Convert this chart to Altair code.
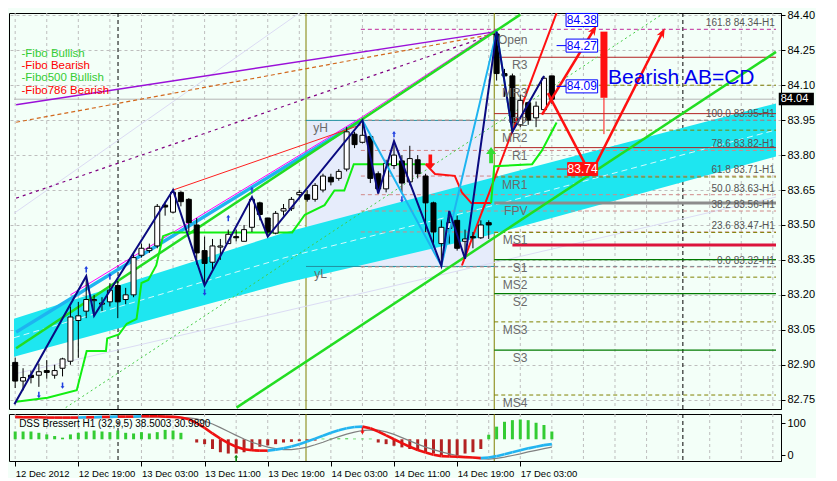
import math
import altair as alt
import pandas as pd

W, H1, H2 = 772, 396, 47
X_DOM = [-0.15, 96.4]
Y_DOM = [82.71, 84.41]
V_DOM = [-17, 128]
BG = "#F3FFF8"
FONT = "Liberation Sans"

# ---------------- candles (H1 bars) ----------------
bars = list(range(69))
opens = [82.91, 82.83, 82.855, 82.855, 82.875, 82.855, 82.885, 82.915, 83.09, 83.13,
         83.175, 83.16, 83.17, 83.24, 83.18, 83.20, 83.37, 83.39, 83.41, 83.585,
         83.555, 83.64, 83.61, 83.50, 83.39, 83.34, 83.405, 83.42, 83.45, 83.43,
         83.49, 83.595, 83.53, 83.465, 83.56, 83.57, 83.63, 83.63, 83.61, 83.65,
         83.705, 83.70, 83.74, 83.89, 83.855, 83.88, 83.72, 83.655, 83.755, 83.775,
         83.685, 83.78, 83.71, 83.595, 83.42, 83.485, 83.52, 83.43, 83.45, 83.445,
         83.51, 84.32, 84.15, 84.14, 83.93, 84.025, 83.96, 83.995, 84.14]
highs = [82.93, 82.885, 82.875, 82.905, 82.92, 82.90, 82.93, 83.15, 83.17, 83.28,
         83.20, 83.19, 83.25, 83.26, 83.23, 83.38, 83.42, 83.42, 83.59, 83.60,
         83.65, 83.645, 83.615, 83.53, 83.45, 83.44, 83.44, 83.48, 83.48, 83.50,
         83.62, 83.60, 83.53, 83.56, 83.59, 83.62, 83.65, 83.65, 83.68, 83.72,
         83.72, 83.74, 83.92, 83.90, 83.95, 83.89, 83.73, 83.78, 83.86, 83.80,
         83.84, 83.80, 83.72, 83.60, 83.52, 83.56, 83.54, 83.48, 83.47, 83.52,
         83.52, 84.33, 84.17, 84.15, 84.06, 84.03, 84.03, 84.14, 84.14]
lows = [82.80, 82.79, 82.82, 82.805, 82.84, 82.84, 82.85, 82.90, 82.93, 83.10,
        83.11, 83.13, 83.15, 83.10, 83.16, 83.19, 83.36, 83.38, 83.40, 83.54,
        83.55, 83.58, 83.47, 83.33, 83.24, 83.31, 83.35, 83.42, 83.43, 83.43,
        83.47, 83.52, 83.45, 83.46, 83.54, 83.56, 83.61, 83.60, 83.60, 83.64,
        83.67, 83.69, 83.73, 83.83, 83.85, 83.68, 83.635, 83.64, 83.74, 83.64,
        83.67, 83.70, 83.47, 83.42, 83.325, 83.42, 83.39, 83.355, 83.40, 83.44,
        83.44, 84.12, 84.05, 83.90, 83.92, 83.93, 83.92, 83.99, 84.02]
closes = [82.83, 82.845, 82.845, 82.87, 82.867, 82.875, 82.925, 83.105, 83.11, 83.18,
          83.18, 83.165, 83.22, 83.17, 83.20, 83.36, 83.40, 83.40, 83.58, 83.577,
          83.64, 83.60, 83.51, 83.38, 83.335, 83.41, 83.41, 83.46, 83.445, 83.48,
          83.61, 83.545, 83.47, 83.55, 83.57, 83.61, 83.64, 83.61, 83.67, 83.71,
          83.685, 83.73, 83.90, 83.845, 83.885, 83.70, 83.655, 83.765, 83.80, 83.68,
          83.785, 83.72, 83.595, 83.47, 83.49, 83.51, 83.40, 83.44, 83.445, 83.50,
          83.50, 84.15, 84.14, 83.94, 84.035, 83.95, 84.01, 84.13, 84.04]

x_ticks = [0, 8, 16, 24, 32, 40, 48, 56, 64]
x_labels = ["12 Dec 2012", "12 Dec 19:00", "13 Dec 03:00", "13 Dec 11:00", "13 Dec 19:00",
            "14 Dec 03:00", "14 Dec 11:00", "14 Dec 19:00", "17 Dec 03:00"]
y_ticks = [82.75, 82.90, 83.05, 83.20, 83.35, 83.50, 83.65, 83.80, 83.95, 84.10, 84.25, 84.40]
grid_bars = [0, 4, 8, 12, 16, 20, 24, 28, 32, 36, 40, 44, 48, 52, 56, 60, 64, 68, 72, 76, 80, 84, 88, 92, 96]

# regression band
band_b = [-0.15, 34.2, 59.0, 96.4]
band_top = [83.097, 83.468, 83.69, 84.022]
band_bot = [82.934, 83.251, 83.447, 83.794]
band_mid = [83.016, 83.36, 83.57, 83.908]

# pivots
piv_names = ["R3", "MR3", "R2", "MR2", "R1", "MR1", "FPV", "MS1", "S1", "MS2", "S2", "MS3", "S3", "MS4"]
piv_prices = [84.22, 84.10, 83.978, 83.907, 83.832, 83.706, 83.594, 83.468, 83.351, 83.276, 83.205, 83.084, 82.963, 82.77]
piv_kind = ["R", "M", "R", "M", "R", "M", "P", "M", "S", "M", "S", "M", "S", "M"]
piv_start = 60.7
open_price = 84.33

# fibo levels
fib_labels = ["161.8 84.34-H1", "100.0 83.95-H1", "78.6 83.82-H1", "61.8 83.71-H1",
              "50.0 83.63-H1", "38.2 83.56-H1", "23.6 83.47-H1", "0.0 83.32-H1"]
fib_prices = [84.34, 83.95, 83.82, 83.71, 83.63, 83.56, 83.47, 83.32]
fib_start = 43.8

# day box
yH, yL = 83.949, 83.322
box_b0, box_b1 = 36.85, 60.7

# zigzags
navy_b = [-0.1, 9, 10, 20, 24, 30, 32, 44, 46, 48, 54, 55, 57, 61, 63, 67]
navy_p = [82.73, 83.28, 83.11, 83.65, 83.24, 83.62, 83.45, 83.95, 83.635, 83.86, 83.325, 83.56, 83.355, 84.33, 83.90, 84.14]
sky_b = [44, 54, 61, 63]
sky_p = [83.95, 83.325, 84.33, 83.90]

# trailing step line
gstep_b = [0.12, 4.1, 7.8, 9.06, 11.5, 11.66, 13.15, 14.14, 15.38, 16.0, 16.87, 17.87, 18.73, 19.98, 35.1, 36.7, 39.2, 40.45, 41.7, 42.9, 52.0]
gstep_p = [82.741, 82.758, 82.791, 82.959, 82.959, 83.013, 83.030, 83.076, 83.097, 83.251, 83.264, 83.326, 83.452, 83.468, 83.468, 83.544, 83.585, 83.648, 83.648, 83.761, 83.761]
rstep_b = [52.0, 53.2, 55.7, 56.6, 57.8, 60.3]
rstep_p = [83.761, 83.719, 83.711, 83.640, 83.594, 83.594]
gstep2_b = [60.3, 60.7, 65.5, 66.75, 68.6]
gstep2_p = [83.594, 83.752, 83.761, 83.820, 83.940]

# AB=CD projection arrows (from -> to)
abcd_b0 = [66.75, 67.5, 73.1]
abcd_p0 = [83.974, 84.066, 83.73]
abcd_b1 = [73.3, 72.7, 82.0]
abcd_p1 = [84.337, 83.73, 84.325]

# price tags
blue_tags = ["84.38", "84.27", "84.09"]
blue_tag_p = [84.38, 84.27, 84.095]
red_tag = "83.74"
red_tag_p = 83.74

# signal arrows
up_small_b = [9, 12, 27, 30, 48]
up_small_p = [83.31, 83.28, 83.53, 83.65, 83.89]
dn_small_b = [3, 6, 24, 49]
dn_small_p = [82.77, 82.81, 83.21, 83.61]

legend_txt = ["-Fibo Bullish", "-Fibo Bearish", "-Fibo500 Bullish", "-Fibo786 Bearish"]
legend_col = ["#33CC33", "#FF0000", "#33CC33", "#FF0000"]
legend_p = [84.236, 84.183, 84.130, 84.077]

# ---------------- DSS Bressert panel ----------------
hist_vals = [74, 74, 74, 70, 65, 60, 55, 65, 70, 74, 77, 74, 72, 77, 70, 68, 72, 68, 72, 79, 77, 70,
             50,
             40, 35, 20, 10, 6, 6, 10, 20, 27, 31, 35, 40, 42, 44, 46, 46,
             52, 52, 53, 53, 52, 52, 52,
             40, 35, 30, 25, 20, 15, 10, 6, 1, -1, 1, 6, 10, 20,
             64, 89, 104, 109, 111, 109, 101, 94, 74]
dss_main = [119, 118, 118, 118, 117, 117, 117, 117, 117, 118, 118, 119, 119, 120, 120, 120, 121, 121, 121, 120, 119, 117,
            112, 100, 85, 68, 52, 38, 27, 19, 16, 15, 15, 18, 22, 28, 35, 43, 52, 61, 70, 78, 84, 88, 89,
            84, 74, 62, 50, 38, 27, 17, 9, 2, -2, -3, -4, -5, -6, -8, -6, -2, 4, 10, 16, 22, 27, 32, 35]
dss_sig = [117, 117, 117, 117, 117, 117, 116, 116, 116, 116, 117, 117, 117, 118, 118, 118, 119, 119, 119, 119, 118, 117,
           116, 113, 106, 97, 86, 74, 62, 51, 41, 33, 26, 21, 18, 18, 21, 26, 33, 41, 50, 58, 66, 72, 77,
           79, 78, 73, 65, 55, 45, 35, 26, 18, 11, 5, 0, -4, -7, -10, -11, -9, -5, 0, 5, 11, 16, 21, 26]

# ---------------- helpers ----------------
xs = alt.Scale(domain=X_DOM, nice=False, zero=False)
ys = alt.Scale(domain=Y_DOM, nice=False, zero=False)
vs = alt.Scale(domain=V_DOM, nice=False, zero=False)
y_axis = alt.Axis(orient="right", values=y_ticks, format=".2f", title=None, grid=True,
                  gridDash=[3, 3], gridColor="#BEBEBE", tickSize=4, labelFontSize=11,
                  labelPadding=2, domainColor="black", tickColor="black", labelColor="black")


def X(f):
    return alt.X(f"{f}:Q", scale=xs, axis=None)


def Y(f):
    return alt.Y(f"{f}:Q", scale=ys, axis=y_axis)


def line(bs, ps, **kw):
    df = pd.DataFrame({"b": bs, "p": ps, "o": list(range(len(bs)))})
    return alt.Chart(df).mark_line(clip=True, **kw).encode(x=X("b"), y=Y("p"), order="o:Q")


def hrules(ps, b0, b1, **kw):
    df = pd.DataFrame({"p": ps, "b0": [b0] * len(ps), "b1": [b1] * len(ps)})
    return alt.Chart(df).mark_rule(clip=True, **kw).encode(y=Y("p"), x=X("b0"), x2=alt.X2("b1"))


def texts(bs, ps, ts, **kw):
    df = pd.DataFrame({"b": bs, "p": ps, "t": ts})
    return alt.Chart(df).mark_text(**kw).encode(x=X("b"), y=Y("p"), text="t:N")


ARROW = "M0,-1L0.62,-0.15L0.24,-0.15L0.24,1L-0.24,1L-0.24,-0.15L-0.62,-0.15Z"
HEAD = "M0,-1L0.75,0.9L0,0.35L-0.75,0.9Z"

layers = []
# vertical grid
layers.append(alt.Chart(pd.DataFrame({"b": grid_bars})).mark_rule(
    color="#BEBEBE", strokeDash=[3, 3], strokeWidth=1).encode(x=X("b")))
# day box
layers.append(alt.Chart(pd.DataFrame({"b0": [box_b0], "b1": [box_b1], "p0": [yL], "p1": [yH]}))
              .mark_rect(color="#E6ECFB").encode(x=X("b0"), x2=alt.X2("b1"), y=Y("p0"), y2=alt.Y2("p1")))
# separators
layers.append(alt.Chart(pd.DataFrame({"b": [box_b0, box_b1]})).mark_rule(color="#808000", strokeWidth=1).encode(x=X("b")))
layers.append(alt.Chart(pd.DataFrame({"b": [13.03, 84.6]})).mark_rule(color="black", strokeDash=[4, 3], strokeWidth=1).encode(x=X("b")))
# cyan regression band
bdf = pd.DataFrame({"b": band_b, "t": band_top, "bt": band_bot})
layers.append(alt.Chart(bdf).mark_area(color="#1EE6F0", clip=True, opacity=1).encode(
    x=X("b"), y=Y("t"), y2=alt.Y2("bt")))
layers.append(line(band_b, band_mid, color="white", strokeWidth=1, strokeDash=[6, 4], opacity=0.8))
# faint fan lines
layers.append(line([-0.15, 36.0], [83.55, 84.41], color="#DCDCF4", strokeWidth=1))
layers.append(line([-0.15, 96.4], [82.86, 83.62], color="#DCDCF4", strokeWidth=1))
# current price line
layers.append(hrules([84.04], X_DOM[0], X_DOM[1], color="#B4B4B4", strokeWidth=1))
# day high / low
layers.append(hrules([yH, yL], box_b0, box_b1, color="#2090A0", strokeWidth=1))
layers.append(hrules([yH, yL], box_b1, X_DOM[1], color="#2090A0", strokeWidth=1, strokeDash=[4, 3]))
# fibo levels
layers.append(hrules(fib_prices[1:], fib_start, X_DOM[1], color="#D08888", strokeWidth=1, strokeDash=[4, 3]))
layers.append(hrules(fib_prices[:1], fib_start, X_DOM[1], color="#C0289A", strokeWidth=1, strokeDash=[4, 3]))
# pivots
r_p = [p for p, k in zip(piv_prices, piv_kind) if k == "R"]
m_p = [p for p, k in zip(piv_prices, piv_kind) if k == "M"]
s_p = [p for p, k in zip(piv_prices, piv_kind) if k == "S"]
f_p = [p for p, k in zip(piv_prices, piv_kind) if k == "P"]
layers.append(hrules(r_p, piv_start, X_DOM[1], color="#B22222", strokeWidth=1))
layers.append(hrules(m_p, piv_start, X_DOM[1], color="#808000", strokeWidth=1, strokeDash=[4, 3]))
layers.append(hrules(s_p, piv_start, X_DOM[1], color="#007A00", strokeWidth=1.2))
layers.append(hrules(f_p, piv_start, X_DOM[1], color="#8C8C8C", strokeWidth=3))
layers.append(hrules([83.414], 63.0, X_DOM[1], color="#DC143C", strokeWidth=3))
# channel lines
layers.append(line([0.12, 60.7], [84.016, 84.329], color="#9A10D8", strokeWidth=1.5))
layers.append(line([0.12, 60.7], [83.941, 84.32], color="#D2691E", strokeWidth=1.2, strokeDash=[4, 3]))
layers.append(line([0.12, 60.7], [83.615, 84.32], color="#800080", strokeWidth=1.2, strokeDash=[3, 4]))
layers.append(line([6.4, 82.0], [82.716, 84.405], color="#44CC44", strokeWidth=1, strokeDash=[2, 3]))
layers.append(line([0.12, 43.8], [83.04, 83.949], color="#1EB4F0", strokeWidth=3.5))
layers.append(line([7.0, 43.8, 60.7], [83.20, 83.96, 84.335], color="#FF00FF", strokeWidth=1))
layers.append(line([0.12, 64.0], [82.971, 84.403], color="#22DD22", strokeWidth=2.5))
layers.append(line([28.04, 96.4], [82.716, 84.243], color="#22DD22", strokeWidth=2.5))
layers.append(line([20, 43.8], [83.65, 83.93], color="#FF2020", strokeWidth=1))
layers.append(line([56.6, 68.6], [83.326, 84.41], color="#FF1010", strokeWidth=2))
# trailing step lines
layers.append(line(gstep_b, gstep_p, color="#11EE11", strokeWidth=2))
layers.append(line(rstep_b, rstep_p, color="#FF1010", strokeWidth=2))
layers.append(line(gstep2_b, gstep2_p, color="#11EE11", strokeWidth=2))
# candles
cdf = pd.DataFrame({"b": bars, "o": opens, "h": highs, "l": lows, "c": closes})
layers.append(alt.Chart(cdf).mark_rule(color="black", strokeWidth=1).encode(x=X("b"), y=Y("l"), y2=alt.Y2("h")))
layers.append(alt.Chart(cdf).mark_bar(size=5, stroke="black", strokeWidth=1).encode(
    x=X("b"), y=Y("o"), y2=alt.Y2("c"),
    fill=alt.condition("datum.c >= datum.o", alt.value("white"), alt.value("black"))))
# zigzags
layers.append(line(sky_b, sky_p, color="#1EB4F0", strokeWidth=2))
layers.append(line(navy_b, navy_p, color="#0A0A80", strokeWidth=2))
# AB=CD arrows
ppb = W / (X_DOM[1] - X_DOM[0])
ppp = H1 / (Y_DOM[1] - Y_DOM[0])
arr_rows, head_rows = [], []
for i, (b0, p0, b1, p1) in enumerate(zip(abcd_b0, abcd_p0, abcd_b1, abcd_p1)):
    arr_rows += [{"g": i, "b": b0, "p": p0, "o": 0}, {"g": i, "b": b1, "p": p1, "o": 1}]
    dx = (b1 - b0) * ppb
    dy = -(p1 - p0) * ppp
    head_rows.append({"b": b1, "p": p1, "a": math.degrees(math.atan2(dx, -dy)) % 360})
layers.append(alt.Chart(pd.DataFrame(arr_rows)).mark_line(color="#FF1010", strokeWidth=2.5).encode(
    x=X("b"), y=Y("p"), detail="g:N", order="o:Q"))
layers.append(alt.Chart(pd.DataFrame(head_rows)).mark_point(shape=HEAD, filled=True, color="#FF1010", size=110, opacity=1).encode(
    x=X("b"), y=Y("p"), angle=alt.Angle("a:Q", scale=None)))
# vertical red marker
layers.append(alt.Chart(pd.DataFrame({"b": [74.6], "p0": [84.046], "p1": [84.33]})).mark_rule(color="#FF1010", strokeWidth=7).encode(
    x=X("b"), y=Y("p0"), y2=alt.Y2("p1")))
layers.append(alt.Chart(pd.DataFrame({"b": [74.6], "p0": [83.89], "p1": [84.046]})).mark_rule(color="#FF1010", strokeWidth=1).encode(
    x=X("b"), y=Y("p0"), y2=alt.Y2("p1")))
# price tags
layers.append(hrules(blue_tag_p[1:], 68.6, 69.8, color="#0000FF", strokeWidth=1))
tag_df = pd.DataFrame({"t": blue_tags, "p": blue_tag_p, "b0": [69.8] * 3, "b1": [73.8] * 3})
tag_df["pa"] = tag_df["p"] - 0.028
tag_df["pb"] = tag_df["p"] + 0.028
tag_df["bm"] = 71.8
layers.append(alt.Chart(tag_df).mark_rect(fill="white", stroke="#0000FF", strokeWidth=1).encode(
    x=X("b0"), x2=alt.X2("b1"), y=Y("pa"), y2=alt.Y2("pb")))
layers.append(alt.Chart(tag_df).mark_text(color="#0000FF", fontSize=12, font=FONT).encode(
    x=X("bm"), y=Y("p"), text="t:N"))
rtag = pd.DataFrame({"t": [red_tag], "p": [red_tag_p], "b0": [70.0], "b1": [73.8], "bm": [71.9],
                     "pa": [red_tag_p - 0.028], "pb": [red_tag_p + 0.028]})
layers.append(hrules([red_tag_p], 68.6, 70.0, color="#FF1010", strokeWidth=1))
layers.append(alt.Chart(rtag).mark_rect(fill="#FF1010", stroke="#FF1010").encode(
    x=X("b0"), x2=alt.X2("b1"), y=Y("pa"), y2=alt.Y2("pb")))
layers.append(alt.Chart(rtag).mark_text(color="white", fontSize=12, font=FONT).encode(
    x=X("bm"), y=Y("p"), text="t:N"))
# signal arrows
layers.append(alt.Chart(pd.DataFrame({"b": [52.6], "p": [83.77]})).mark_point(
    shape=ARROW, filled=True, color="#FF1010", size=230, angle=180, opacity=1).encode(x=X("b"), y=Y("p")))
layers.append(alt.Chart(pd.DataFrame({"b": [60.3], "p": [83.80]})).mark_point(
    shape=ARROW, filled=True, color="#33DD33", size=260, opacity=1).encode(x=X("b"), y=Y("p")))
layers.append(alt.Chart(pd.DataFrame({"b": up_small_b, "p": up_small_p})).mark_point(
    shape=ARROW, filled=True, color="#2040E0", size=40, opacity=1).encode(x=X("b"), y=Y("p")))
layers.append(alt.Chart(pd.DataFrame({"b": dn_small_b, "p": dn_small_p})).mark_point(
    shape=ARROW, filled=True, color="#2040E0", size=40, angle=180, opacity=1).encode(x=X("b"), y=Y("p")))
# price box on axis
layers.append(alt.Chart(pd.DataFrame({"b0": [96.75], "b1": [101.2], "p0": [84.014], "p1": [84.068]})).mark_rect(
    color="black").encode(x=X("b0"), x2=alt.X2("b1"), y=Y("p0"), y2=alt.Y2("p1")))
layers.append(texts([97.0], [84.04], ["84.04"], align="left", color="white", fontSize=11, font=FONT))
# labels
layers.append(texts([64.9] * len(piv_names), piv_prices, piv_names, align="right", dy=8,
                    color="#6A6A6A", fontSize=12, font=FONT))
layers.append(texts([64.9], [open_price], ["Open"], align="right", dy=8, color="#6A6A6A", fontSize=12, font=FONT))
layers.append(texts([96.25] * len(fib_labels), fib_prices, fib_labels, align="right", dy=-6,
                    color="#555555", fontSize=10, font=FONT))
layers.append(texts([38.7, 38.7], [83.916, 83.289], ["yH", "yL"], color="#6A6A6A", fontSize=12, font=FONT))
layers.append(alt.Chart(pd.DataFrame({"b": [0.8] * 4, "p": legend_p, "t": legend_txt, "c": legend_col}))
              .mark_text(align="left", fontSize=11.5, font=FONT).encode(
    x=X("b"), y=Y("p"), text="t:N", color=alt.Color("c:N", scale=None)))
layers.append(texts([84.4], [84.129], ["Bearish AB=CD"], color="#0000EE", fontSize=21, font=FONT))

main = alt.layer(*layers).properties(width=W, height=H1)

# ---------------- lower panel ----------------
lab_expr = "[" + ",".join(f"'{s}'" for s in x_labels) + "][round(datum.value/8)]"
x_axis_low = alt.Axis(values=x_ticks, labelExpr=lab_expr, title=None, grid=False, tickSize=5,
                      tickColor="black", labelAlign="left", labelPadding=2, labelFontSize=9.5,
                      labelColor="black", domain=False, labelOverlap=False, labelFlush=False)
v_axis = alt.Axis(orient="right", values=[0, 100], title=None, grid=False, tickSize=4,
                  labelFontSize=11, labelColor="black", domainColor="black", tickColor="black")


def XL(f):
    return alt.X(f"{f}:Q", scale=xs, axis=x_axis_low)


def VL(f):
    return alt.Y(f"{f}:Q", scale=vs, axis=v_axis)


low = []
low.append(alt.Chart(pd.DataFrame({"b": grid_bars})).mark_rule(
    color="#BEBEBE", strokeDash=[3, 3]).encode(x=XL("b")))
low.append(alt.Chart(pd.DataFrame({"b": [box_b0, box_b1]})).mark_rule(color="#808000").encode(x=XL("b")))
low.append(alt.Chart(pd.DataFrame({"b": [13.03, 84.6]})).mark_rule(color="black", strokeDash=[4, 3]).encode(x=XL("b")))
hdf = pd.DataFrame({"b": bars, "v": hist_vals, "base": [50] * len(bars)})
low.append(alt.Chart(hdf).mark_bar(size=3, clip=True).encode(
    x=XL("b"), y=VL("base"), y2=alt.Y2("v"),
    color=alt.condition("datum.v > 50", alt.value("#33CC33"), alt.value("#B22222"))))
sig_df = pd.DataFrame({"b": bars, "v": dss_sig})
low.append(alt.Chart(sig_df).mark_line(color="#808080", strokeWidth=1.2, clip=True).encode(x=XL("b"), y=VL("v")))
seg_rows = []
for i in range(len(dss_main) - 1):
    d = "up" if dss_main[i + 1] > dss_main[i] else "down"
    seg_rows.append({"s": i, "b": i, "v": dss_main[i], "d": d})
    seg_rows.append({"s": i, "b": i + 1, "v": dss_main[i + 1], "d": d})
low.append(alt.Chart(pd.DataFrame(seg_rows)).mark_line(strokeWidth=2.6, clip=True).encode(
    x=XL("b"), y=VL("v"), detail="s:N",
    color=alt.Color("d:N", scale=alt.Scale(domain=["up", "down"], range=["#22B4F0", "#EE1010"]), legend=None)))
low.append(alt.Chart(pd.DataFrame({"b": [44.0], "v": [76]})).mark_point(
    shape=ARROW, filled=True, color="#EE1010", size=45, angle=180, opacity=1).encode(x=XL("b"), y=VL("v")))
low.append(alt.Chart(pd.DataFrame({"b": [28.0], "v": [-8]})).mark_point(
    shape=ARROW, filled=True, color="#118811", size=45, opacity=1).encode(x=XL("b"), y=VL("v")))
low.append(alt.Chart(pd.DataFrame({"b": [0.5], "v": [96], "t": ["DSS Bressert H1 (32,9,5) 38.5003 30.9890"]}))
           .mark_text(align="left", fontSize=10, font=FONT, color="black").encode(x=XL("b"), y=VL("v"), text="t:N"))
lower = alt.layer(*low).properties(width=W, height=H2)

chart = alt.vconcat(main, lower, spacing=3, background=BG,
                    padding={"left": 0, "top": 0, "right": 0, "bottom": 0}).configure_view(
    stroke="black", strokeWidth=1, fill=BG).configure_axis(labelFont=FONT).configure_text(font=FONT)

chart.save("out.html", embed_options={"renderer": "svg", "actions": False})
